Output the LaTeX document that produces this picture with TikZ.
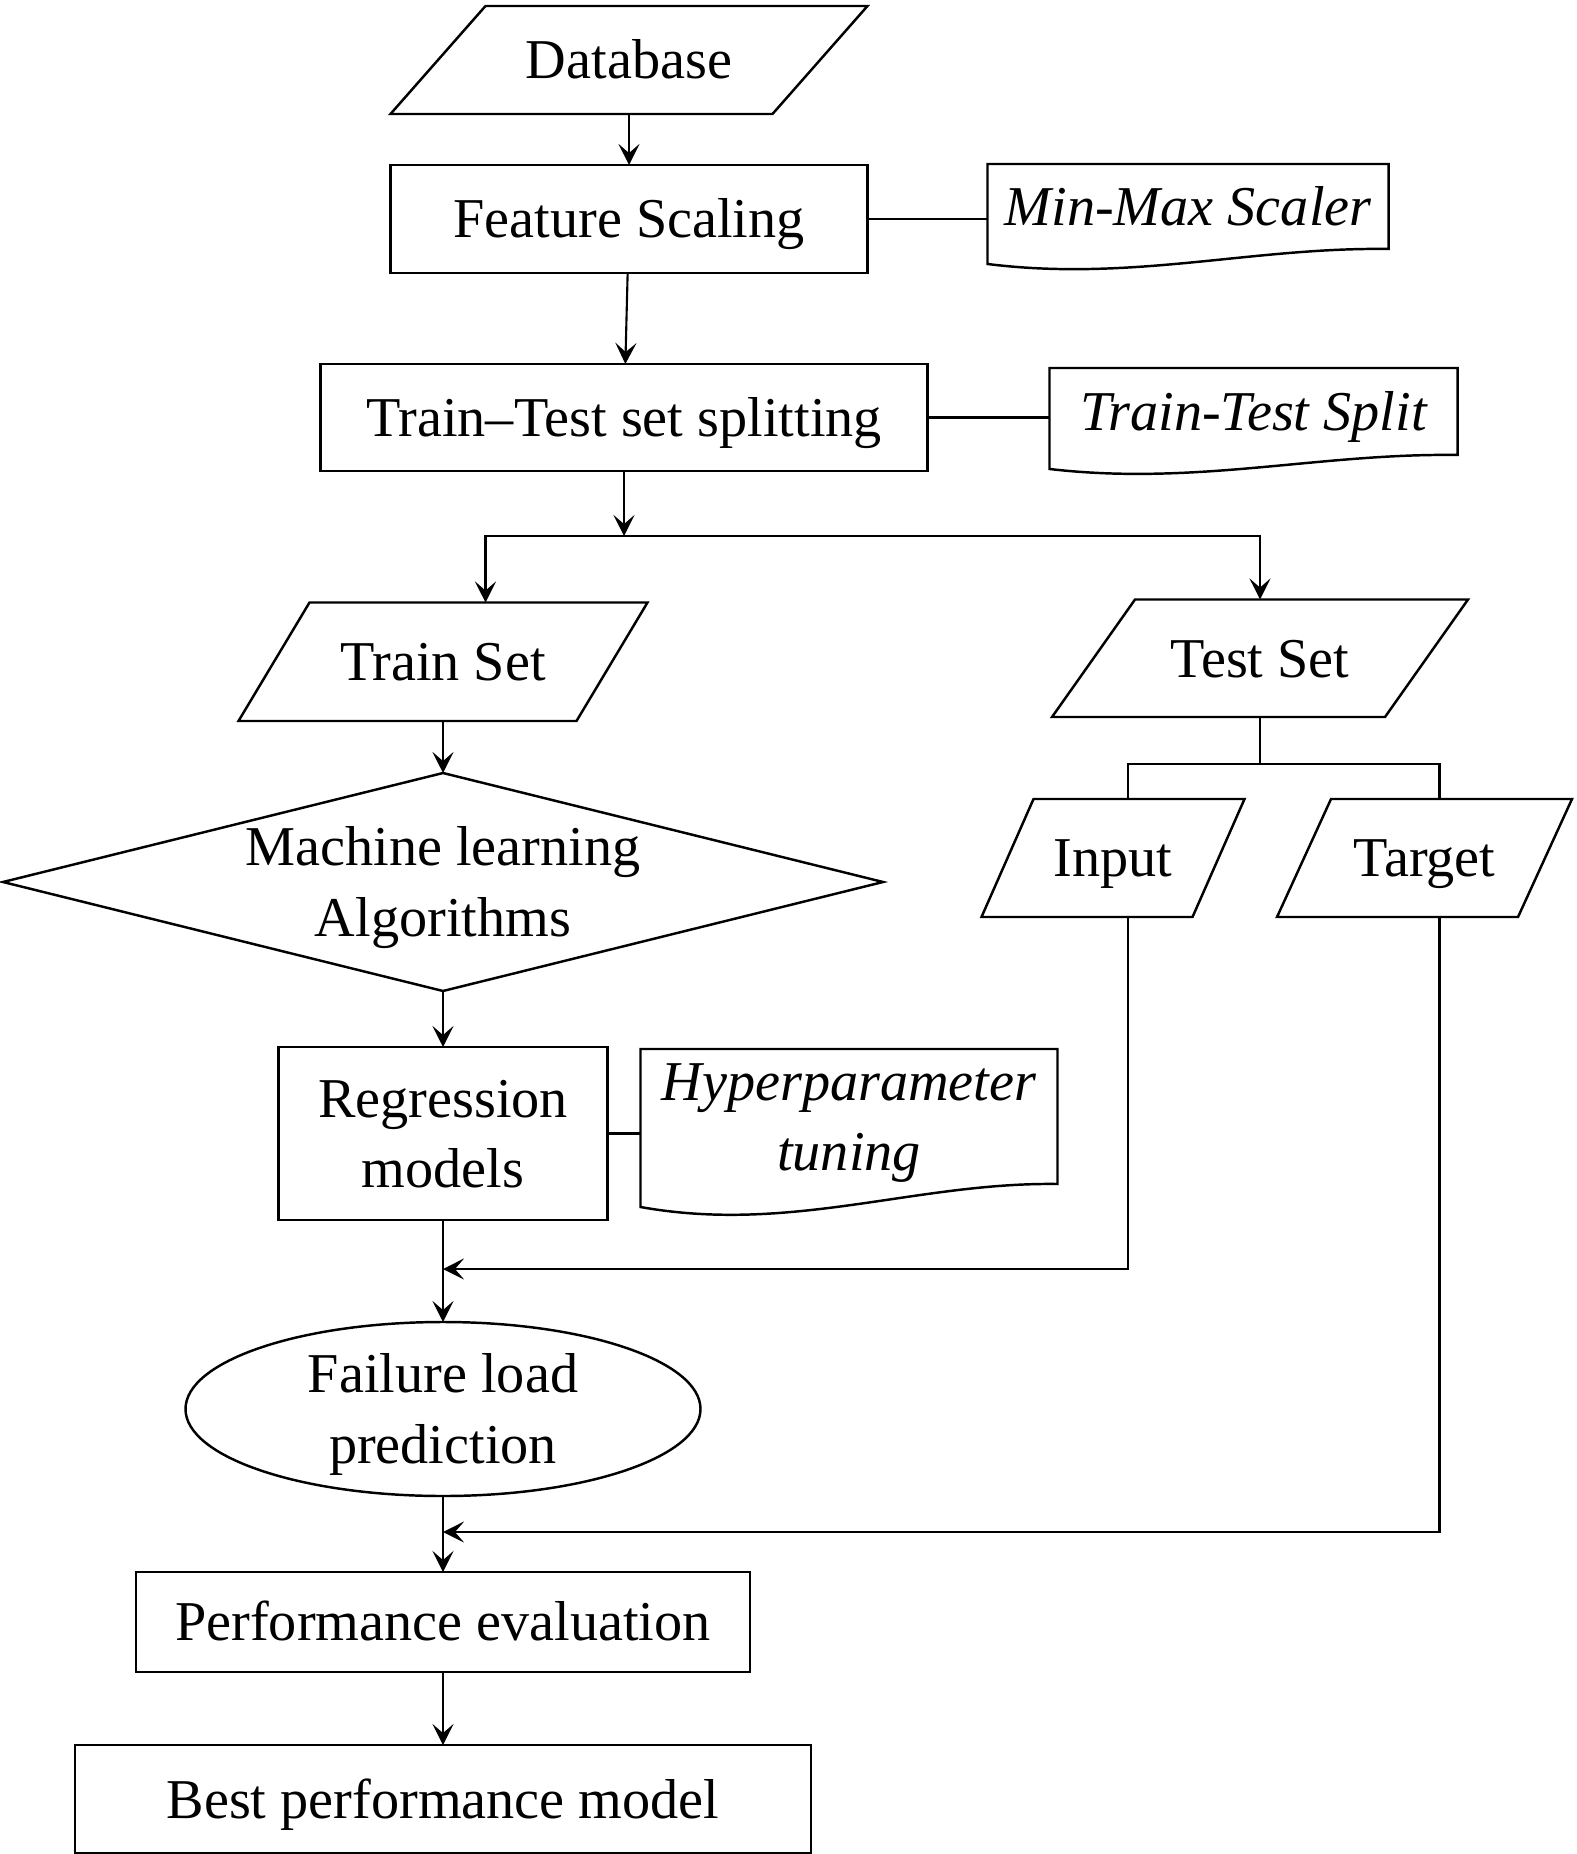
\documentclass[tikz,border=0pt]{standalone}
\usepackage{fontspec}
\setmainfont{Liberation Serif}
\usepackage{tikz}
\usetikzlibrary{positioning}
\usetikzlibrary{calc}
\usetikzlibrary{shapes.geometric}
\usetikzlibrary{arrows.meta}
\newcommand{\lstrut}{\rule[-0.216em]{0pt}{1.107em}}

\begin{document}
\begin{tikzpicture}[
  font=\fontsize{16}{20}\selectfont,
  box/.style={draw, rectangle, line width=0.7pt, outer sep=0pt, inner sep=0pt, align=center},
  io/.style={rectangle, outer sep=0pt, inner sep=0pt, align=center},
  doc/.style={rectangle, outer sep=0pt, inner sep=0pt, align=center, font=\fontsize{16}{20}\selectfont\itshape},
  arr/.style={-{Stealth[length=6pt,width=6pt,inset=2.6pt]}, line width=0.6pt},
  link/.style={line width=0.6pt}
]
  \useasboundingbox (0,0) rectangle (15.77,-18.54);

  \node[io, minimum width=3.82cm, minimum height=1.08cm] (db) at (6.29,-0.60) {\lstrut Database};
  \node[box, below=0.51cm of db, minimum width=4.77cm, minimum height=1.08cm] (fs) {\lstrut Feature Scaling};
  \node[doc, right=1.20cm of fs, yshift=1.25mm, minimum width=4.01cm, minimum height=0.85cm] (mms) {\lstrut Min-Max Scaler};
  \node[box, below=0.91cm of fs, xshift=-0.5mm, minimum width=6.07cm, minimum height=1.07cm] (tt) {\lstrut Train--Test set splitting};
  \node[doc, right=1.22cm of tt, yshift=0.6mm, minimum width=4.08cm, minimum height=0.87cm] (tts) {\lstrut Train-Test Split};
  \coordinate[below=0.65cm of tt] (sp);

  \node[io, below=0.665cm of sp, xshift=-1.81cm, minimum width=3.38cm, minimum height=1.185cm] (ts) {\lstrut Train Set};
  \node[io, below=0.635cm of sp, xshift=6.36cm, minimum width=3.33cm, minimum height=1.175cm] (te) {\lstrut Test Set};
  \coordinate[below=0.47cm of te] (tb);
  \node[io, below=0.82cm of te, xshift=-1.47cm, minimum width=2.11cm, minimum height=1.18cm] (in) {\lstrut Input};
  \node[io, right=0.855cm of in, minimum width=2.41cm, minimum height=1.18cm] (tg) {\lstrut Target};

  \node[io, below=0.52cm of ts, minimum width=8.8cm, minimum height=2.18cm] (ml) {\lstrut Machine learning\\Algorithms\lstrut};
  \node[box, below=0.56cm of ml, minimum width=3.29cm, minimum height=1.73cm] (rm) {\lstrut Regression\\models\lstrut};
  \node[doc, right=0.33cm of rm, yshift=1.7mm, minimum width=4.17cm, minimum height=1.35cm] (hpt) {\lstrut Hyperparameter\\tuning\lstrut};
  \coordinate[below=0.49cm of rm] (ij);
  \node[draw, ellipse, line width=0.7pt, outer sep=0pt, inner xsep=0pt, inner ysep=-0.6mm, align=center, below=1.02cm of rm, minimum width=5.15cm, minimum height=1.74cm] (fl) {\lstrut Failure load\\prediction\lstrut};
  \coordinate[below=0.36cm of fl] (tj);
  \node[box, below=0.76cm of fl, minimum width=6.14cm, minimum height=1.0cm] (pe) {\lstrut Performance evaluation};
  \node[box, below=0.73cm of pe, minimum width=7.36cm, minimum height=1.08cm] (bp) {\lstrut Best performance model};

  \foreach \p/\o in {db/0.475, ts/0.355, te/0.415, in/0.26, tg/0.27}
    \draw[line width=0.7pt] ($(\p.north west)+(\o,0)$) -- ($(\p.north east)+(\o,0)$)
      -- ($(\p.south east)+(-\o,0)$) -- ($(\p.south west)+(-\o,0)$) -- cycle;
  \draw[line width=0.7pt] (ml.north) -- (ml.east) -- (ml.south) -- (ml.west) -- cycle;

  \foreach \d/\dr/\dc in {mms/0.15/0.33, tts/0.14/0.31, hpt/0.23/0.5}
    \draw[line width=0.7pt] (\d.south east) -- (\d.north east) -- (\d.north west) -- ($(\d.south west)+(0,-\dr)$)
      .. controls ($(\d.south west)!0.36!(\d.south east)+(0,-\dc)$) and ($(\d.south west)!0.66!(\d.south east)+(0,0.02)$) .. cycle;

  \draw[arr] (db) -- (fs);
  \draw[arr] (fs) -- (tt);
  \draw[link, line width=0.7pt] (fs.east) -- (fs.east -| mms.west);
  \draw[link, line width=0.7pt] (tt.east) -- (tt.east -| tts.west);
  \draw[arr] (tt) -- (sp);
  \draw[arr] (sp) -| ([xshift=4.25mm]ts.north);
  \draw[arr] (sp) -| (te.north);
  \draw[arr] (ts) -- (ml);
  \draw[arr] (ml) -- (rm);
  \draw[link] (rm.east) -- (rm.east -| hpt.west);
  \draw[arr] (rm) -- (fl);
  \draw[arr] (fl) -- (pe);
  \draw[arr] (pe) -- (bp);
  \draw[link] (te) -- (tb);
  \draw[link] ([xshift=1.5mm]in.north) |- (tb) -| ([xshift=1.5mm]tg.north);
  \draw[arr] ([xshift=1.5mm]in.south) |- (ij);
  \draw[arr] ([xshift=1.5mm]tg.south) |- (tj);
\end{tikzpicture}
\end{document}
